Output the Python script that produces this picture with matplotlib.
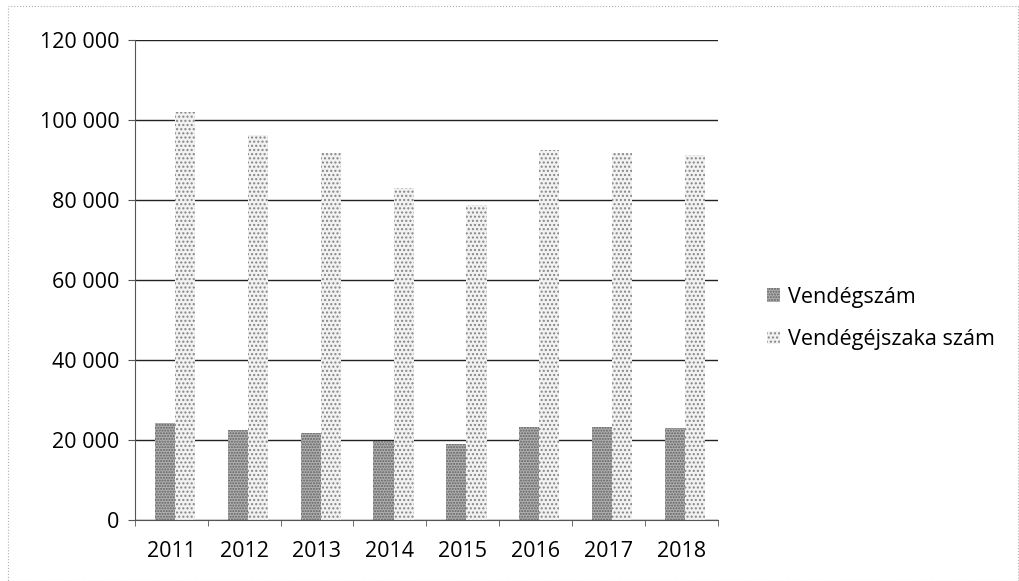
import numpy as np
import matplotlib.pyplot as plt
from matplotlib.patches import Rectangle
from matplotlib.ticker import FuncFormatter

# Vendégforgalom évenként
evek = ['2011', '2012', '2013', '2014', '2015', '2016', '2017', '2018']
vendegszam = [24200, 22500, 21700, 19800, 19000, 23300, 23300, 23000]
vendegejszaka = [102000, 96200, 91700, 83000, 78800, 92500, 91700, 91200]

plt.rcParams['font.family'] = ['Open Sans', 'DejaVu Sans']
plt.rcParams['hatch.linewidth'] = 1.0

fig = plt.figure(figsize=(10.2, 5.81), dpi=100)
ax = fig.add_axes([0.132, 0.105, 0.572, 0.826])

x = np.arange(len(evek))
w = 0.275
b1 = ax.bar(x - w / 2 + 0.05, vendegszam, w, color='#b0b0b0', edgecolor='#606060',
            hatch='......', linewidth=0, label='Vendégszám')
b2 = ax.bar(x + w / 2 + 0.05, vendegejszaka, w, color='#f2f2f2', edgecolor='#858585',
            hatch='....', linewidth=0, label='Vendégéjszaka szám')

ax.set_xlim(-0.5, len(evek) - 0.5)
ax.set_ylim(0, 120000)
ax.set_yticks(range(0, 120001, 20000))
ax.yaxis.set_major_formatter(FuncFormatter(lambda v, p: f'{int(v):,}'.replace(',', ' ')))
ax.set_xticks(x)
ax.set_xticklabels(evek)
ax.set_xticks(np.arange(-0.5, len(evek)), minor=True)
ax.tick_params(axis='x', which='major', length=0, pad=15, labelsize=15.5)
ax.tick_params(axis='x', which='minor', length=4, color='#555555')
ax.tick_params(axis='y', length=5, color='#555555', labelsize=15.5, pad=6)

ax.grid(axis='y', color='#222222', linewidth=1.0)
ax.set_axisbelow(True)
for s in ['top', 'right']:
    ax.spines[s].set_visible(False)
ax.spines['left'].set_color('#555555')
ax.spines['bottom'].set_color('#555555')

ax.legend(loc='center left', bbox_to_anchor=(1.05, 0.42), frameon=False,
          fontsize=15.5, handlelength=0.6, handleheight=0.6, handletextpad=0.4,
          labelspacing=1.0)

# vékony keret a diagram körül
fig.patches.append(Rectangle((0.008, 0.0), 0.99, 0.99, transform=fig.transFigure,
                             fill=False, edgecolor='#b0b0b0', linewidth=0.8,
                             linestyle=':'))

fig.savefig('out.png', dpi=100)
